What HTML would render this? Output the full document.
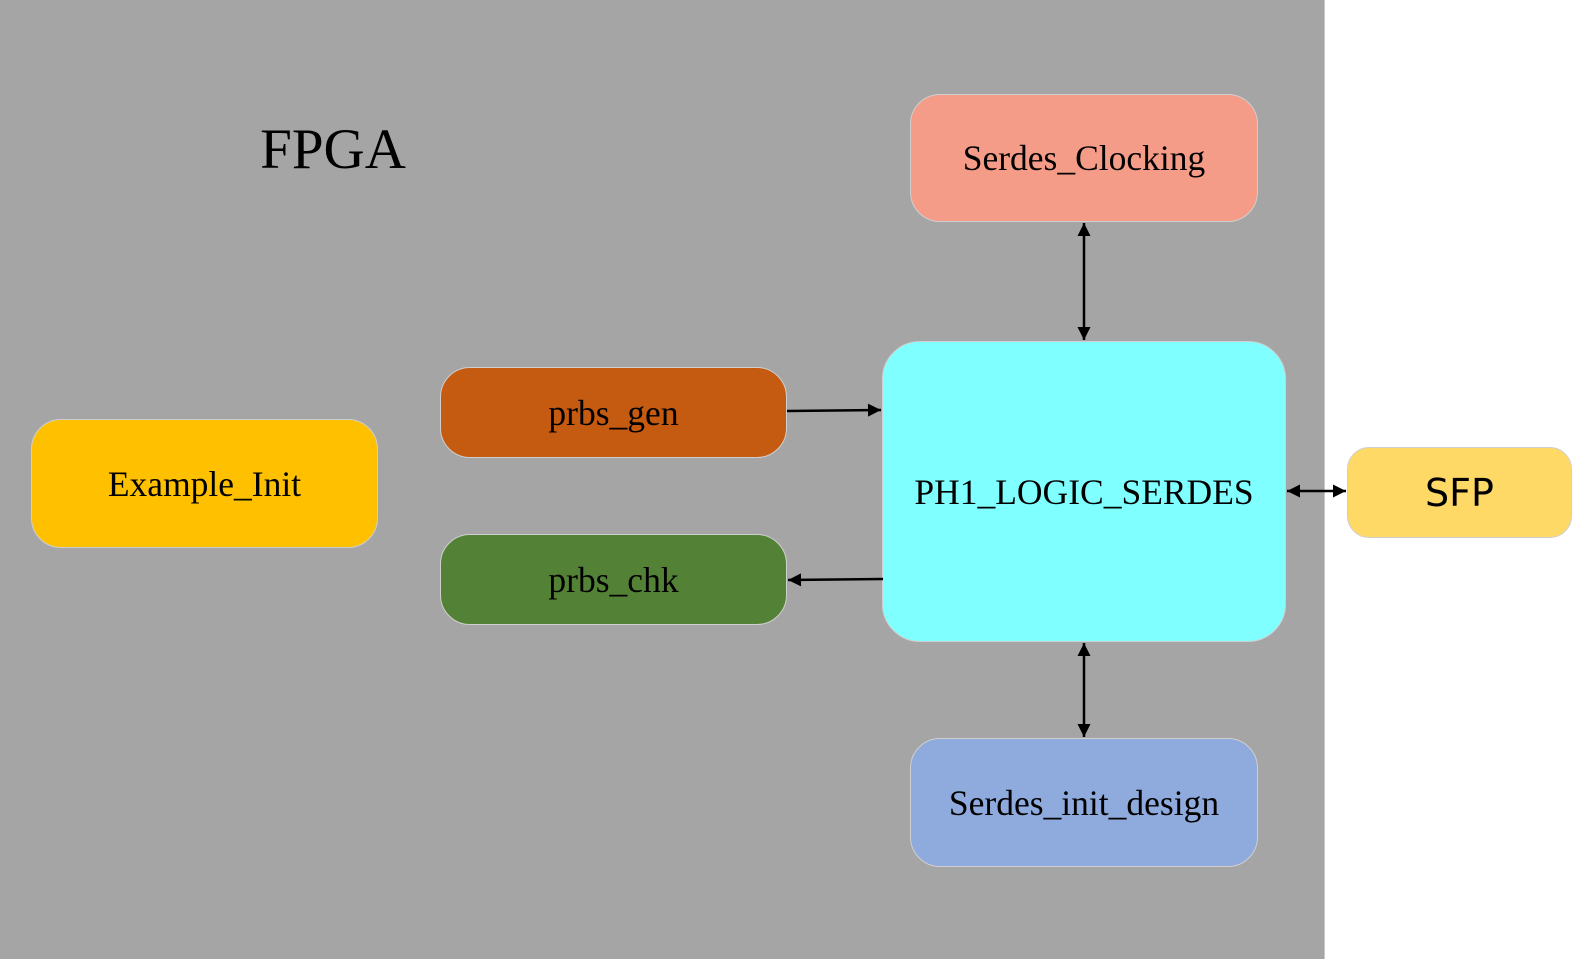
<!DOCTYPE html>
<html><head><style>
body{margin:0;width:1584px;height:959px;background:#fff;position:relative;overflow:hidden;font-family:"Liberation Serif",serif}
.bg{position:absolute;left:0;top:0;width:1324px;height:959px;background:#a5a5a5;border-right:1px solid #c8c8c8}
.b{position:absolute;display:flex;align-items:center;justify-content:center;border:1px solid #cfcfcf;box-sizing:border-box;font-size:35.5px;color:#000;border-radius:30px}
</style></head><body>
<div class="bg"></div>
<div style="position:absolute;left:233px;top:117px;width:200px;text-align:center;font-size:57px">FPGA</div>
<div class="b" style="left:910px;top:94px;width:348px;height:128px;background:#f49c87">Serdes_Clocking</div>
<div class="b" style="left:882px;top:341px;width:404px;height:301px;background:#7fffff;border-radius:38px">PH1_LOGIC_SERDES</div>
<div class="b" style="left:440px;top:367px;width:347px;height:91px;background:#c55a11">prbs_gen</div>
<div class="b" style="left:440px;top:534px;width:347px;height:91px;background:#538135">prbs_chk</div>
<div class="b" style="left:31px;top:419px;width:347px;height:129px;background:#ffc000">Example_Init</div>
<div class="b" style="left:910px;top:738px;width:348px;height:129px;background:#8faadc">Serdes_init_design</div>
<div class="b" style="left:1347px;top:447px;width:225px;height:91px;background:#ffd966;font-family:'DejaVu Sans',sans-serif;font-size:38px;border-radius:22px">SFP</div>
<svg style="position:absolute;left:0;top:0" width="1584" height="959">
<defs>
<marker id="m" viewBox="0 0 10 10" refX="10" refY="5" markerWidth="16" markerHeight="13" orient="auto-start-reverse" markerUnits="userSpaceOnUse"><path d="M0,0L10,5L0,10z" fill="#000"/></marker></defs>
<g stroke="#000" stroke-width="2.5">
<line x1="1084" y1="223" x2="1084" y2="340" marker-start="url(#m)" marker-end="url(#m)"/>
<line x1="1084" y1="643" x2="1084" y2="737" marker-start="url(#m)" marker-end="url(#m)"/>
<line x1="1287" y1="491" x2="1346" y2="491" marker-start="url(#m)" marker-end="url(#m)"/>
<line x1="787" y1="411" x2="881" y2="410" marker-end="url(#m)"/>
<line x1="883" y1="579" x2="788" y2="580" marker-end="url(#m)"/>
</g></svg>
</body></html>
